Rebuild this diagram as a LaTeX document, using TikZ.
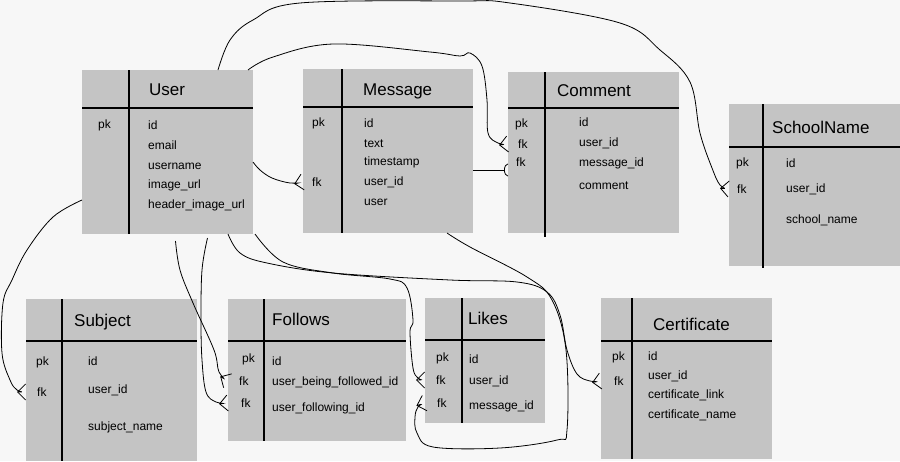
\documentclass[tikz,border=0pt]{standalone}
\usepackage{fontspec}
\setmainfont{Liberation Sans}
\usetikzlibrary{arrows.meta}
\definecolor{bggray}{RGB}{247,247,247}
\definecolor{tblgray}{RGB}{196,196,196}

\begin{document}
\begin{tikzpicture}[x=1pt, y=-1pt,
  tbl/.style={rectangle, fill=tblgray, inner sep=0pt, outer sep=0pt},
  divider/.style={line width=1.1pt},
  tabtitle/.style={anchor=west, inner sep=0pt, font=\fontsize{17}{20}\selectfont, text height=12pt, text depth=0pt},
  fieldtxt/.style={anchor=west, inner sep=0pt, font=\fontsize{12}{14}\selectfont, text height=8pt, text depth=0pt},
  link/.style={line width=0.8pt},
  crow/.style={link, -{Straight Barb[reversed, length=8pt, width=16pt]}},
  bar/.style={link, -{Arc Barb[reversed, length=4pt, width=13pt]}}
]
  \fill[bggray] (0,0) rectangle (900,461);
  \useasboundingbox (0,0) rectangle (900,461);

  % tables
  \node[tbl, minimum width=171pt, minimum height=164pt] (user) at (167.5,152) {};
  \draw[divider] ([xshift=47pt]user.north west) -- ([xshift=47pt]user.south west);
  \draw[divider] ([yshift=-38pt]user.north west) -- ([yshift=-38pt]user.north east);
  \node[tabtitle] (user-t) at (149,89) {User};
  \node[fieldtxt] (user-pk) at (98,124) {pk};
  \foreach \t/\y [count=\i] in {id/125, email/145, username/165, image\_url/184, header\_image\_url/204}
    \node[fieldtxt] (user-f\i) at (148,\y) {\t};

  \node[tbl, minimum width=170pt, minimum height=164pt] (message) at (388,151) {};
  \draw[divider] ([xshift=39pt]message.north west) -- ([xshift=39pt]message.south west);
  \draw[divider] ([yshift=-38pt]message.north west) -- ([yshift=-38pt]message.north east);
  \node[tabtitle] (msg-t) at (363,89) {Message};
  \node[fieldtxt] (msg-pk) at (312,122) {pk};
  \node[fieldtxt] (msg-fk) at (312,182) {fk};
  \foreach \t/\y [count=\i] in {id/123, text/143, timestamp/161, user\_id/181, user/201}
    \node[fieldtxt] (msg-f\i) at (364,\y) {\t};

  \node[tbl, minimum width=171pt, minimum height=161pt] (comment) at (593.5,152.5) {};
  \draw[divider] ([xshift=37pt]comment.north west) -- ([xshift=37pt,yshift=-4pt]comment.south west);
  \draw[divider] ([yshift=-36pt]comment.north west) -- ([yshift=-36pt]comment.north east);
  \node[tabtitle] (cm-t) at (557,90) {Comment};
  \node[fieldtxt] (cm-pk) at (515,123) {pk};
  \node[fieldtxt] (cm-fk1) at (518,144) {fk};
  \node[fieldtxt] (cm-fk2) at (516,162) {fk};
  \foreach \t/\y [count=\i] in {id/122, user\_id/142, message\_id/162, comment/185}
    \node[fieldtxt] (cm-f\i) at (579,\y) {\t};

  \node[tbl, minimum width=171pt, minimum height=162pt] (schoolname) at (814.5,185) {};
  \draw[divider] ([xshift=34pt]schoolname.north west) -- ([xshift=34pt,yshift=-2pt]schoolname.south west);
  \draw[divider] ([yshift=-43pt]schoolname.north west) -- ([yshift=-43pt]schoolname.north east);
  \node[tabtitle] (sn-t) at (772,127) {SchoolName};
  \node[fieldtxt] (sn-pk) at (736,162) {pk};
  \node[fieldtxt] (sn-fk) at (737,189) {fk};
  \foreach \t/\y [count=\i] in {id/163, user\_id/188, school\_name/219}
    \node[fieldtxt] (sn-f\i) at (786,\y) {\t};

  \node[tbl, minimum width=171pt, minimum height=162pt] (subject) at (111.5,380) {};
  \draw[divider] ([xshift=36pt]subject.north west) -- ([xshift=36pt]subject.south west);
  \draw[divider] ([yshift=-42pt]subject.north west) -- ([yshift=-42pt]subject.north east);
  \node[tabtitle] (sb-t) at (74,320) {Subject};
  \node[fieldtxt] (sb-pk) at (36,361) {pk};
  \node[fieldtxt] (sb-fk) at (37,392) {fk};
  \foreach \t/\y [count=\i] in {id/361, user\_id/389, subject\_name/426}
    \node[fieldtxt] (sb-f\i) at (88,\y) {\t};

  \node[tbl, minimum width=178pt, minimum height=142pt] (follows) at (317,370) {};
  \draw[divider] ([xshift=36pt]follows.north west) -- ([xshift=36pt]follows.south west);
  \draw[divider] ([yshift=-42pt]follows.north west) -- ([yshift=-42pt]follows.north east);
  \node[tabtitle] (fw-t) at (272,319) {Follows};
  \node[fieldtxt] (fw-pk) at (242,358) {pk};
  \node[fieldtxt] (fw-fk1) at (239,381) {fk};
  \node[fieldtxt] (fw-fk2) at (241,403) {fk};
  \foreach \t/\y [count=\i] in {id/361, user\_being\_followed\_id/381, user\_following\_id/407}
    \node[fieldtxt] (fw-f\i) at (272,\y) {\t};

  \node[tbl, minimum width=120pt, minimum height=125pt] (likes) at (485,360.5) {};
  \draw[divider] ([xshift=37pt]likes.north west) -- ([xshift=37pt]likes.south west);
  \draw[divider] ([yshift=-42pt]likes.north west) -- ([yshift=-42pt]likes.north east);
  \node[tabtitle] (lk-t) at (468,318) {Likes};
  \node[fieldtxt] (lk-pk) at (436,357) {pk};
  \node[fieldtxt] (lk-fk1) at (436,380) {fk};
  \node[fieldtxt] (lk-fk2) at (437,403) {fk};
  \foreach \t/\y [count=\i] in {id/359, user\_id/380, message\_id/405}
    \node[fieldtxt] (lk-f\i) at (469,\y) {\t};

  \node[tbl, minimum width=171pt, minimum height=161pt] (certificate) at (686.5,378.5) {};
  \draw[divider] ([xshift=31pt]certificate.north west) -- ([xshift=31pt]certificate.south west);
  \draw[divider] ([yshift=-43pt]certificate.north west) -- ([yshift=-43pt]certificate.north east);
  \node[tabtitle] (ct-t) at (653,324) {Certificate};
  \node[fieldtxt] (ct-pk) at (612,356) {pk};
  \node[fieldtxt] (ct-fk) at (614,381) {fk};
  \foreach \t/\y [count=\i] in {id/356, user\_id/375, certificate\_link/394, certificate\_name/414}
    \node[fieldtxt] (ct-f\i) at (648,\y) {\t};

  % relations
  \draw[crow] plot[smooth, tension=0.6] coordinates {([xshift=-35pt]user.north east) (230,40) (253,20) (300,3) (460,1) (510,3) (620,23) (660,50) (690,82) (700,133) (712,168) (720,185) (schoolname.west |- sn-fk)};
  \draw[crow] plot[smooth, tension=0.6] coordinates {([xshift=-5pt]user.north east) (273,57) (333,44) (430,52) (460,56) (470,53) (482,66) (487,100) (488,133) (498,143) (comment.west |- cm-fk1)};
  \draw[crow] plot[smooth, tension=0.6] coordinates {([yshift=-10pt]user.east) (260,170) (272,178) (290,183) (message.west |- msg-fk)};
  \draw[bar] ([yshift=-19pt]message.east) -- ([yshift=-19pt]message.east -| comment.west);
  \draw[crow] plot[smooth, tension=0.6] coordinates {([yshift=-48pt]user.west) (53,217) (27,250) (12,280) (3,303) (2,353) (10,380) (17,390) (subject.west |- sb-fk)};
  \draw[crow] plot[smooth, tension=0.6] coordinates {([xshift=8pt,yshift=-7pt]user.south) (180,270) (193,303) (214,350) (219,372) (follows.west |- fw-fk1)};
  \draw[crow] plot[smooth, tension=0.6] coordinates {([xshift=40pt,yshift=-4pt]user.south) (202,270) (201,320) (202,360) (206,392) (216,402) (follows.west |- fw-fk2)};
  \draw[crow] plot[smooth, tension=0.6] coordinates {([xshift=-25pt]user.south east) (240,253) (267,263) (333,273) (450,280) (517,282) (547,292) (560,315) (567,350) (577,374) (590,381) (certificate.west |- ct-fk)};
  \draw[crow] plot[smooth, tension=0.6] coordinates {([xshift=2pt]user.south east) (283,262) (333,273) (390,279) (407,288) (413,320) (410,332) (413,368) (418,378) (likes.west |- lk-fk1)};
  \draw[crow] plot[smooth, tension=0.6] coordinates {([xshift=-26pt]message.south east) (470,247) (527,277) (552,300) (566,350) (567,430) (557,440) (500,448) (433,447) (417,433) (415,417) (418,407) (likes.west |- lk-fk2)};
\end{tikzpicture}
\end{document}
